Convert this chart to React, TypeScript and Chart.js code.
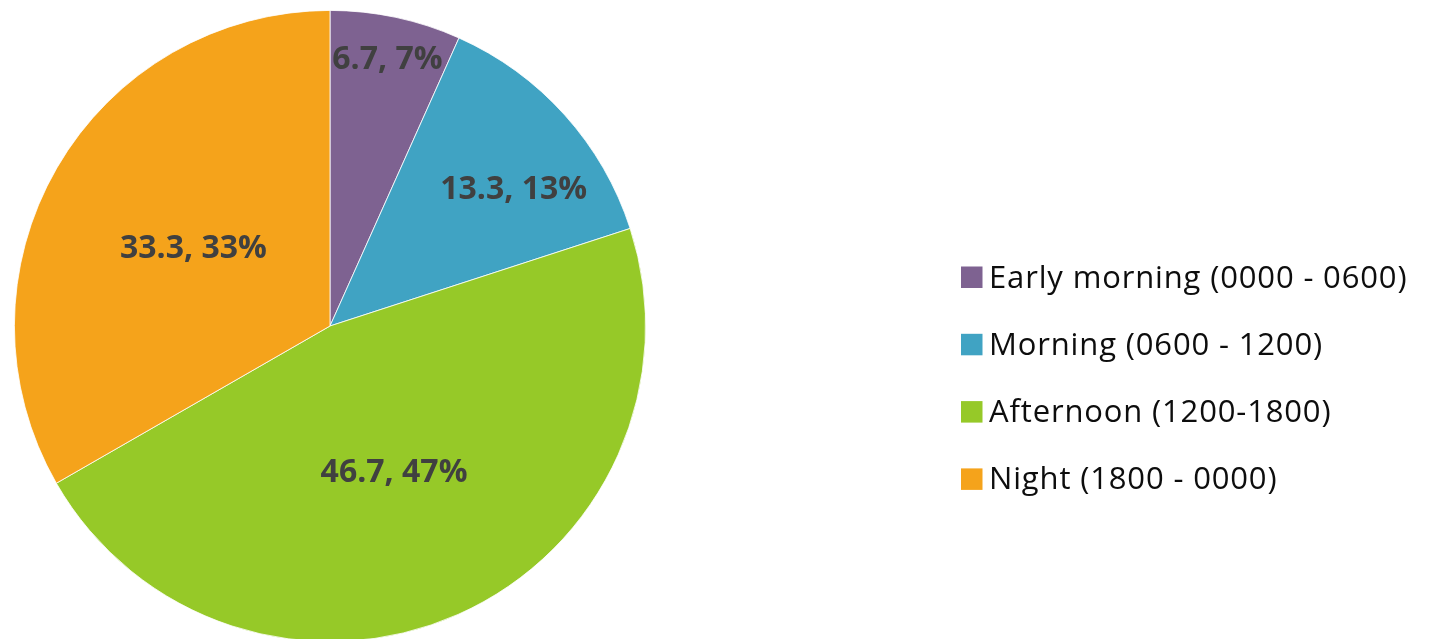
import React, { useEffect, useRef } from "react";
import { Chart, registerables } from "chart.js";

Chart.register(...registerables);

const categories = [
  "Early morning (0000 - 0600)",
  "Morning (0600 - 1200)",
  "Afternoon (1200-1800)",
  "Night (1800 - 0000)",
];
const values = [6.7, 13.3, 46.7, 33.3];
const colors = ["#7E6291", "#40A3C3", "#96C928", "#F5A31B"];

// style: placement of each data label (fraction of radius, angle shift in degrees)
const labelRadiusFraction = [0.87, 0.728, 0.5, 0.5];
const labelAngleShiftDeg = [0, 5, 0, 0];

const labelPlugin = {
  id: "sliceLabels",
  afterDatasetsDraw(chart: any) {
    const ctx = chart.ctx;
    const meta = chart.getDatasetMeta(0);
    const data = chart.data.datasets[0].data as number[];
    const total = data.reduce((a, b) => a + b, 0);
    ctx.save();
    ctx.font = "bold 32px 'Open Sans', sans-serif";
    ctx.fillStyle = "#404040";
    ctx.textAlign = "center";
    ctx.textBaseline = "alphabetic";
    meta.data.forEach((arc: any, i: number) => {
      const { x, y, startAngle, endAngle, outerRadius } = arc.getProps(
        ["x", "y", "startAngle", "endAngle", "outerRadius"],
        true
      );
      const mid = (startAngle + endAngle) / 2 + (labelAngleShiftDeg[i] * Math.PI) / 180;
      const r = outerRadius * labelRadiusFraction[i];
      const px = x + Math.cos(mid) * r;
      const py = y + Math.sin(mid) * r;
      const pct = Math.round((data[i] / total) * 100);
      ctx.fillText(`${data[i]}, ${pct}%`, px, py + 11.5);
    });
    ctx.restore();
  },
};

const legendPlugin = {
  id: "customLegend",
  afterDraw(chart: any) {
    const ctx = chart.ctx;
    const labels = chart.data.labels as string[];
    const bg = chart.data.datasets[0].backgroundColor as string[];
    ctx.save();
    ctx.font = "31px 'Open Sans', sans-serif";
    try {
      (ctx as any).letterSpacing = "0.85px";
    } catch (e) {}
    ctx.textBaseline = "alphabetic";
    ctx.textAlign = "left";
    const x0 = 961;
    const y0 = 287.5;
    const step = 67.3;
    labels.forEach((lab, i) => {
      const by = y0 + i * step;
      ctx.fillStyle = bg[i];
      ctx.fillRect(x0, by - 21, 21.5, 21.5);
      ctx.fillStyle = "#0d0d0d";
      ctx.fillText(lab, x0 + 28, by);
    });
    ctx.restore();
  },
};

export default function App() {
  const ref = useRef<HTMLCanvasElement | null>(null);
  useEffect(() => {
    if (!ref.current) return;
    const chart = new Chart(ref.current, {
      type: "pie",
      data: {
        labels: categories,
        datasets: [
          {
            data: values,
            backgroundColor: colors,
            borderColor: "#ffffff",
            borderWidth: 0.8,
          },
        ],
      },
      options: {
        animation: false,
        responsive: false,
        maintainAspectRatio: false,
        layout: { padding: { left: 14, right: 783, top: 10, bottom: 18 } },
        plugins: {
          legend: { display: false },
          tooltip: { enabled: false },
        },
      },
      plugins: [labelPlugin, legendPlugin],
    });
    return () => chart.destroy();
  }, []);
  return (
    <div
      style={{
        position: "absolute",
        left: 0,
        top: 0,
        width: 1429,
        height: 639,
        overflow: "hidden",
        background: "#ffffff",
      }}
    >
      <canvas ref={ref} width={1429} height={660} style={{ display: "block" }} />
    </div>
  );
}
